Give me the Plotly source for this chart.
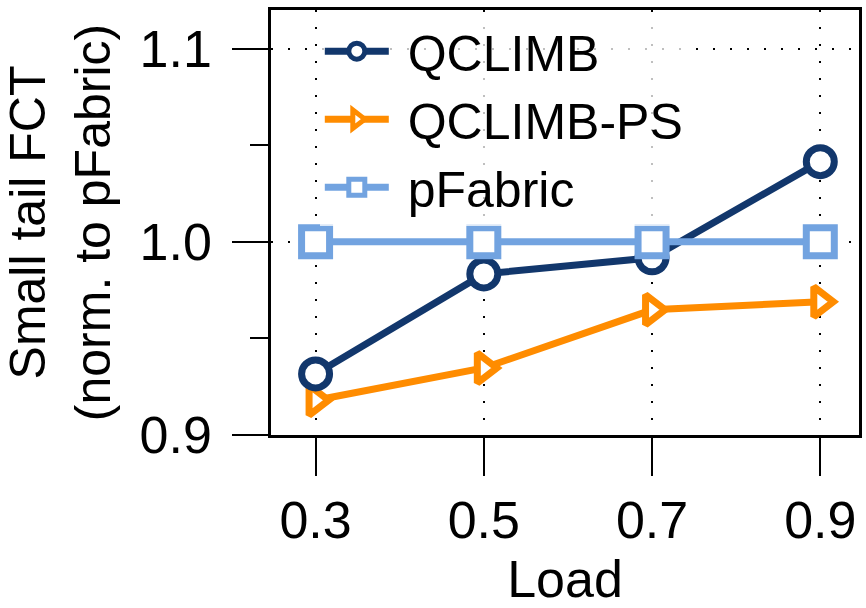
import plotly.graph_objects as go

# Load levels and normalized small-flow tail FCT
loads = [0.3, 0.5, 0.7, 0.9]
qclimb = [0.9316, 0.9834, 0.9917, 1.0415]
qclimb_ps = [0.918, 0.9347, 0.9648, 0.969]
pfabric = [1.0, 1.0, 1.0, 1.0]

y_ticks = [0.9, 1.0, 1.1]
x_ticks = [0.3, 0.5, 0.7, 0.9]

NAVY = "#12376c"
ORANGE = "#ff8c00"
LIGHT_BLUE = "#72a3e0"
FONT = "Liberation Sans, Arial, Helvetica, sans-serif"

fig = go.Figure()

# drawing order: PS below QCLIMB, pFabric on top
series = [
    ("QCLIMB-PS", qclimb_ps, ORANGE, "triangle-right", 2, 26),
    ("QCLIMB", qclimb, NAVY, "circle", 1, 28),
    ("pFabric", pfabric, LIGHT_BLUE, "square", 3, 28),
]
for name, vals, color, symbol, rank, size in series:
    fig.add_trace(go.Scatter(
        x=loads, y=vals, name="\u00a0" + name, mode="lines+markers",
        line=dict(color=color, width=7),
        marker=dict(symbol=symbol, size=size, color="white",
                    line=dict(color=color, width=7)),
        legendrank=rank,
        cliponaxis=False,
    ))

fig.update_layout(
    width=866, height=608,
    margin=dict(l=271, r=4, t=10, b=173),
    plot_bgcolor="white", paper_bgcolor="white",
    font=dict(family=FONT, color="black", size=48),
    showlegend=True,
    legend=dict(
        x=0.083, y=0.995, xanchor="left", yanchor="top",
        bgcolor="rgba(255,255,255,0.75)",
        font=dict(size=50, family=FONT),
        itemwidth=64, tracegroupgap=0,
    ),
)

fig.update_xaxes(
    range=[0.247, 0.946],
    tickvals=x_ticks, ticktext=[f"{v:.1f}" for v in x_ticks],
    ticks="outside", ticklen=38, tickwidth=2, tickcolor="black",
    tickfont=dict(size=52, family=FONT),
    showline=True, linecolor="black", linewidth=2.5, mirror=True,
    showgrid=True, gridcolor="black", gridwidth=2, griddash="2px,15px",
    zeroline=False,
    title=dict(text="Load", font=dict(size=52, family=FONT), standoff=18),
)

fig.update_yaxes(
    range=[0.9, 1.12],
    tickvals=y_ticks, ticktext=[f"{v:.1f}" for v in y_ticks],
    ticks="outside", ticklen=36, tickwidth=2, tickcolor="black",
    ticklabelstandoff=10,
    tickfont=dict(size=52, family=FONT),
    minor=dict(dtick=0.05, tick0=0.9, ticks="outside", ticklen=18,
               tickwidth=2, tickcolor="black", showgrid=False),
    showline=True, linecolor="black", linewidth=2.5, mirror=True,
    showgrid=True, gridcolor="black", gridwidth=2, griddash="2px,15px",
    zeroline=False,
    title=dict(text="Small tail FCT<br>(norm. to pFabric)",
               font=dict(size=50, family=FONT), standoff=20),
)

fig.write_html("out.html")
